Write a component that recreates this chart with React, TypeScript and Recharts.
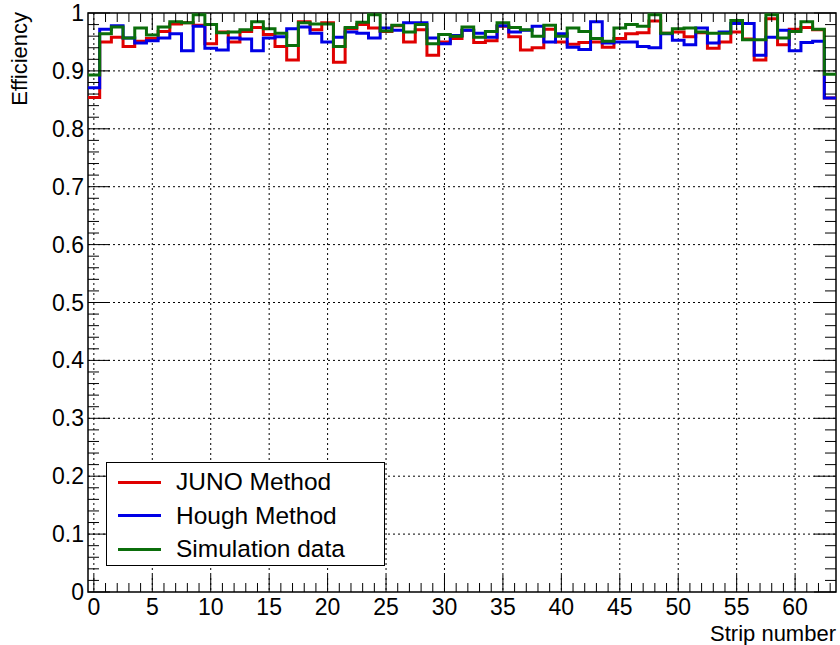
import { CartesianGrid, Line, LineChart, ReferenceArea, XAxis, YAxis } from 'recharts';

// efficiency per strip
const juno = [
  0.854, 0.950, 0.958, 0.942, 0.951, 0.956, 0.968, 0.981, 0.983, 0.979,
  0.947, 0.967, 0.950, 0.968, 0.975, 0.963, 0.942, 0.919, 0.985, 0.971,
  0.983, 0.915, 0.973, 0.980, 0.974, 0.968, 0.978, 0.950, 0.971, 0.927,
  0.950, 0.956, 0.970, 0.949, 0.952, 0.977, 0.959, 0.936, 0.940, 0.972,
  0.950, 0.946, 0.949, 0.950, 0.941, 0.956, 0.964, 0.966, 0.986, 0.965,
  0.967, 0.959, 0.966, 0.939, 0.950, 0.967, 0.955, 0.919, 0.990, 0.945,
  0.972, 0.975, 0.971, 0.853,
];
const hough = [
  0.871, 0.972, 0.978, 0.957, 0.948, 0.952, 0.957, 0.964, 0.935, 0.977,
  0.939, 0.936, 0.957, 0.955, 0.935, 0.957, 0.959, 0.973, 0.976, 0.965,
  0.950, 0.958, 0.967, 0.965, 0.957, 0.974, 0.970, 0.983, 0.983, 0.957,
  0.947, 0.961, 0.970, 0.965, 0.958, 0.978, 0.967, 0.970, 0.977, 0.950,
  0.964, 0.941, 0.937, 0.985, 0.948, 0.950, 0.950, 0.942, 0.940, 0.964,
  0.953, 0.945, 0.974, 0.948, 0.967, 0.982, 0.982, 0.927, 0.958, 0.970,
  0.935, 0.949, 0.951, 0.853,
];
const simulation = [
  0.893, 0.964, 0.976, 0.957, 0.974, 0.962, 0.976, 0.985, 0.983, 0.997,
  0.980, 0.966, 0.967, 0.971, 0.985, 0.973, 0.965, 0.944, 0.983, 0.981,
  0.981, 0.942, 0.975, 0.984, 0.997, 0.969, 0.979, 0.967, 0.980, 0.947,
  0.963, 0.960, 0.976, 0.958, 0.968, 0.983, 0.975, 0.971, 0.960, 0.979,
  0.960, 0.974, 0.968, 0.956, 0.951, 0.974, 0.980, 0.977, 0.997, 0.965,
  0.973, 0.974, 0.967, 0.965, 0.965, 0.987, 0.954, 0.954, 0.997, 0.957,
  0.968, 0.985, 0.972, 0.894,
];

const xMajorTicks = [0, 5, 10, 15, 20, 25, 30, 35, 40, 45, 50, 55, 60];
const yMajorTicks = [0, 0.1, 0.2, 0.3, 0.4, 0.5, 0.6, 0.7, 0.8, 0.9, 1];

const series = [
  { key: 'juno', name: 'JUNO Method', color: '#e00000' },
  { key: 'hough', name: 'Hough Method', color: '#0000e6' },
  { key: 'simulation', name: 'Simulation data', color: '#0b6e0b' },
];

// frame of the pad, px
const LEFT = 88;
const TOP = 13;
const RIGHT = 836;
const FONT = '"Liberation Sans", Arial, sans-serif';
const LABEL_SIZE = 23;

// histogram drawn as steps: one point per bin low edge plus the last high edge
const nBins = juno.length;
const data = Array.from({ length: nBins + 1 }, (_, i) => {
  const b = Math.min(i, nBins - 1);
  return { x: i - 0.5, juno: juno[b], hough: hough[b], simulation: simulation[b] };
});

const xTicks = Array.from({ length: nBins }, (_, i) => i);
const yTicks = Array.from({ length: 51 }, (_, i) => Math.round(i * 2) / 100);

function XTick(props: any) {
  const { x, y, payload } = props;
  const v = payload.value;
  const major = xMajorTicks.includes(v);
  const len = major ? 17 : 9;
  return (
    <g>
      <line x1={x} y1={y} x2={x} y2={y - len} stroke="#000" />
      <line x1={x} y1={TOP} x2={x} y2={TOP + len} stroke="#000" />
      {major && (
        <text x={x} y={y + 23} textAnchor="middle" fontSize={LABEL_SIZE} fontFamily={FONT} fill="#000">
          {v}
        </text>
      )}
    </g>
  );
}

function YTick(props: any) {
  const { x, y, payload } = props;
  const v = payload.value;
  const major = yMajorTicks.some((t) => Math.abs(t - v) < 1e-6);
  const len = major ? 22 : 11;
  const label = v === 0 ? '0' : v === 1 ? '1' : v.toFixed(1);
  return (
    <g>
      <line x1={x} y1={y} x2={x + len} y2={y} stroke="#000" />
      <line x1={RIGHT} y1={y} x2={RIGHT - len} y2={y} stroke="#000" />
      {major && (
        <text x={x - 4} y={y + 8} textAnchor="end" fontSize={LABEL_SIZE} fontFamily={FONT} fill="#000">
          {label}
        </text>
      )}
    </g>
  );
}

export default function App() {
  return (
    <div style={{ position: 'absolute', left: 0, top: 0, width: 840, height: 645, background: '#fff' }}>
      <LineChart
        width={840}
        height={645}
        data={data}
        margin={{ top: TOP, right: 840 - RIGHT, bottom: 8, left: 8 }}
      >
        <CartesianGrid
          stroke="#000"
          strokeDasharray="2 3"
          verticalValues={xMajorTicks}
          horizontalValues={yMajorTicks.slice(1, -1)}
        />
        <XAxis
          dataKey="x"
          type="number"
          domain={[-0.5, 63.5]}
          allowDataOverflow
          ticks={xTicks}
          interval={0}
          tickSize={0}
          tickMargin={0}
          tickLine={false}
          axisLine={false}
          tick={<XTick />}
          height={45}
        />
        <YAxis
          type="number"
          domain={[0, 1]}
          allowDataOverflow
          ticks={yTicks}
          interval={0}
          tickSize={0}
          tickMargin={0}
          tickLine={false}
          axisLine={false}
          tick={<YTick />}
          width={LEFT - 8}
        />
        <ReferenceArea x1={-0.5} x2={63.5} y1={0} y2={1} fill="none" stroke="#000" strokeWidth={1.5} />
        {series.map((s) => (
          <Line
            key={s.key}
            dataKey={s.key}
            name={s.name}
            type="stepAfter"
            stroke={s.color}
            strokeWidth={3}
            dot={false}
            activeDot={false}
            isAnimationActive={false}
          />
        ))}
      </LineChart>
      <svg
        width={840}
        height={645}
        style={{ position: 'absolute', left: 0, top: 0, pointerEvents: 'none' }}
      >
        <text x={RIGHT} y={641} textAnchor="end" fontSize={22} fontFamily={FONT} fill="#000">
          Strip number
        </text>
        <text
          transform="translate(27, 12) rotate(-90)"
          textAnchor="end"
          fontSize={22}
          fontFamily={FONT}
          fill="#000"
        >
          Efficiency
        </text>
      </svg>
      <div
        style={{
          position: 'absolute',
          left: 106,
          top: 462,
          width: 277,
          height: 102,
          border: '1px solid #000',
          background: '#fff',
          fontFamily: FONT,
          fontSize: 24.5,
        }}
      >
        {series.map((s, i) => (
          <div
            key={s.key}
            style={{ position: 'absolute', left: 0, top: 4 + i * 33.5, height: 30, display: 'flex', alignItems: 'center' }}
          >
            <div style={{ marginLeft: 11, width: 43, height: 3, background: s.color }} />
            <span style={{ marginLeft: 15, whiteSpace: 'nowrap' }}>{s.name}</span>
          </div>
        ))}
      </div>
    </div>
  );
}
